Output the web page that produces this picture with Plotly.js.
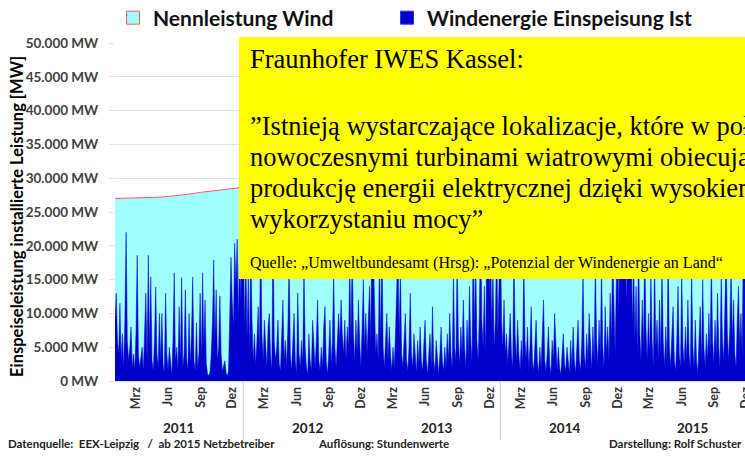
<!DOCTYPE html>
<html><head><meta charset="utf-8">
<script src="https://cdn.plot.ly/plotly-3.0.1.min.js"></script>
<style>html,body{margin:0;padding:0;overflow:hidden;background:#fff}#chart{width:762px;height:457px}</style>
</head><body><div id="chart"></div>
<script>
// ---- data (values above ~15.000 MW after 2011 are hidden by the yellow box and estimated) ----
const years = [2011, 2012, 2013, 2014, 2015];
const monthNames = ['Mrz', 'Jun', 'Sep', 'Dez'];
const monthNumbers = [3, 6, 9, 12];

// installed wind capacity, monthly from Jan 2011 to Jan 2016 (MW)
const capacity = [
  27000, 27020, 27060, 27110, 27170, 27300, 27450, 27650, 27900, 28100, 28300, 28500,
  28700, 28850, 29000, 29200, 29400, 29600, 29800, 30000, 30250, 30500, 30800, 31100,
  31300, 31500, 31700, 31950, 32200, 32450, 32700, 33000, 33300, 33600, 33950, 34300,
  34600, 34900, 35250, 35600, 36000, 36400, 36800, 37200, 37650, 38100, 38600, 39100,
  39500, 39900, 40400, 40900, 41400, 41900, 42400, 42900, 43400, 43900, 44400, 44900,
  45200
];

// wind feed-in, two samples per week (MW)
const wind2011 = [
  9000, 13000, 6000, 4000, 11500, 3000, 7000, 2000, 9000, 22000, 6000, 3000, 5000, 8000, 2000, 4000,
  1500, 7000, 18600, 4000, 2000, 3500, 5000, 1500, 6000, 13000, 3000, 18600, 5000, 15400, 3000, 1500,
  6000, 13900, 4000, 2000, 10000, 3000, 10000, 2500, 1200, 13000, 4000, 1500, 5000, 2000, 800, 6000,
  16000, 3000, 5000, 1500, 11000, 3000, 15300, 2000, 4000, 13500, 3500, 1500, 10000, 2500, 7000, 15400,
  3000, 1500, 8600, 2000, 4000, 13000, 3000, 16000, 5000, 12000, 2500, 1000, 800, 1300, 4000, 9000,
  17900, 6000, 13500, 3000, 5000, 12600, 4000, 1500, 2500, 3000, 1200, 700, 1500, 9000, 18300, 12000,
  8000, 20400, 14000, 21000, 9000, 20000, 12000, 24000
];
const wind2012 = [
  22000, 8000, 19000, 6000, 16000, 4000, 21000, 9000, 3000, 7000, 2500, 6000, 11000, 4000, 24000, 7000,
  3000, 9000, 5000, 2000, 8000, 10000, 4000, 1500, 23000, 6000, 3000, 5000, 9000, 2500, 1500, 7000,
  12000, 3000, 6000, 2000, 8000, 18000, 4000, 1500, 5000, 10000, 3000, 1200, 13000, 4000, 2000, 6000,
  2500, 17000, 5000, 2000, 1000, 7000, 3000, 1500, 9000, 4000, 2000, 6000, 12000, 3000, 1500, 5000,
  2000, 8000, 11000, 3000, 1000, 4000, 9000, 2500, 6000, 16000, 5000, 2000, 7000, 10000, 6000, 12000,
  7000, 4000, 9000, 3000, 8000, 5000, 18000, 6000, 20000, 7000, 3000, 9000, 4000, 12000, 6000, 2000,
  8000, 15000, 5000, 10000, 4000, 8000, 14000, 6000
];
const wind2013 = [
  26000, 20000, 9000, 4000, 7000, 3000, 18000, 6000, 22000, 5000, 2000, 6000, 10000, 3000, 8000, 4000,
  1500, 5000, 2000, 7000, 12000, 20000, 6000, 17000, 4000, 2000, 6000, 10000, 3000, 1500, 5000, 13000,
  4000, 2000, 7000, 3000, 1200, 6000, 2500, 8000, 3000, 1500, 5000, 9000, 3000, 1000, 4000, 7000,
  2000, 11000, 3000, 1500, 6000, 2500, 1000, 4000, 8000, 3000, 1500, 5000, 2000, 7000, 3000, 10000,
  4000, 2000, 16000, 5000, 3000, 19000, 6000, 2500, 8000, 4000, 12000, 5000, 2000, 9000, 4000, 14000,
  6000, 3000, 21000, 8000, 18000, 6000, 3000, 10000, 24000, 9000, 5000, 14000, 4000, 20000, 26000, 12000,
  22000, 8000, 17000, 5000, 9000, 21000, 7000, 15000
];
const wind2014 = [
  23000, 9000, 5000, 12000, 4000, 7000, 2500, 6000, 10000, 4000, 2000, 19000, 7000, 3000, 9000, 4000,
  1500, 6000, 2500, 18000, 6000, 3000, 8000, 2000, 5000, 11000, 3000, 1500, 6000, 9000, 3000, 1200,
  5000, 2000, 7000, 12000, 3000, 1500, 4000, 8000, 2500, 1000, 6000, 3000, 10000, 4000, 1500, 5000,
  2000, 900, 4000, 7000, 2500, 1500, 5000, 3000, 1000, 6000, 2000, 8000, 3000, 1200, 5000, 9000,
  3000, 1500, 6000, 16000, 4000, 2000, 7000, 3000, 10000, 4000, 1500, 8000, 3000, 18000, 6000, 2500,
  9000, 4000, 17000, 5000, 2000, 11000, 4000, 8000, 3000, 13000, 6000, 20000, 9000, 4000, 15000, 22000,
  10000, 25000, 14000, 27000, 18000, 24000, 12000, 21000
];
const wind2015 = [
  26000, 15000, 22000, 8000, 19000, 6000, 14000, 4000, 20000, 7000, 3000, 12000, 5000, 21000, 8000, 3000,
  10000, 4000, 16000, 6000, 2000, 18000, 5000, 9000, 3000, 12000, 4000, 17000, 6000, 2000, 8000, 3000,
  19000, 5000, 2000, 7000, 11000, 3000, 1500, 6000, 14000, 4000, 2000, 16000, 5000, 2500, 8000, 3000,
  12000, 4000, 1500, 17000, 5000, 2000, 9000, 3000, 1200, 6000, 11000, 3000, 15000, 5000, 2000, 7000,
  3000, 10000, 4000, 18000, 6000, 2500, 9000, 4000, 13000, 5000, 2000, 16000, 6000, 3000, 11000, 19000,
  7000, 3000, 8000, 17000, 6000, 12000, 4000, 2000, 9000, 14000, 5000, 10000, 4000, 22000, 28000, 18000,
  25000, 12000, 20000, 9000, 24000, 15000, 27000, 19000
];
const windByYear = [wind2011, wind2012, wind2013, wind2014, wind2015];

const legendCapacity = 'Nennleistung Wind';
const legendWind = 'Windenergie Einspeisung Ist';
const yTitle = 'Einspeiseleistung installierte Leistung [MW]';
const boxHeading = 'Fraunhofer IWES Kassel:';
const boxQuote = [
  '”Istnieją wystarczające lokalizacje, które w połączeniu z',
  'nowoczesnymi turbinami wiatrowymi obiecują wysoką',
  'produkcję energii elektrycznej dzięki wysokiemu',
  'wykorzystaniu mocy”'
];
const boxSource = 'Quelle: „Umweltbundesamt (Hrsg): „Potenzial der Windenergie an Land“';
const footerLeft = 'Datenquelle:  EEX-Leipzig   /  ab 2015 Netzbetreiber';
const footerMid = 'Auflösung: Stundenwerte';
const footerRight = 'Darstellung: Rolf Schuster';

// ---- build ----
function iso(ms) { return new Date(ms).toISOString().slice(0, 16).replace('T', ' '); }

const capX = capacity.map((v, k) => iso(Date.UTC(2011 + Math.floor(k / 12), k % 12, 1)));
const windX = [], windY = [];
years.forEach((yr, yi) => {
  const arr = windByYear[yi];
  const start = Date.UTC(yr, 0, 1), len = Date.UTC(yr + 1, 0, 1) - start;
  arr.forEach((v, i) => { windX.push(iso(start + i * len / arr.length)); windY.push(v); });
});

const tickvals = [], ticktext = [];
years.forEach(yr => monthNumbers.forEach((m, j) => {
  tickvals.push(yr + '-' + String(m).padStart(2, '0') + '-01');
  ticktext.push(monthNames[j]);
}));

const BLUE = '#0000CC', CYAN = '#A0FFFF', RED = '#FF5A5A';
const sans = 'Lato, "Open Sans", sans-serif';
const serif = '"Liberation Serif", "Times New Roman", serif';

// pixel -> paper helpers (plot area: x 115..757, y 43..381)
const px = x => (x - 115) / 642;
const py = y => 1 - (y - 43) / 338;

const traces = [
  { x: capX, y: capacity, type: 'scatter', mode: 'lines', fill: 'tozeroy',
    fillcolor: CYAN, line: { color: RED, width: 1 }, showlegend: false, hoverinfo: 'skip' },
  { x: windX, y: windY, type: 'scatter', mode: 'lines', fill: 'tozeroy',
    fillcolor: BLUE, line: { color: BLUE, width: 0.5 }, showlegend: false, hoverinfo: 'skip' },
  { x: [null], y: [null], type: 'scatter', mode: 'markers', name: legendCapacity, legend: 'legend',
    marker: { symbol: 'square', size: 13, color: CYAN, line: { color: RED, width: 1 } } },
  { x: [null], y: [null], type: 'scatter', mode: 'markers', name: legendWind, legend: 'legend2',
    marker: { symbol: 'square', size: 13, color: BLUE, line: { color: '#3333DD', width: 1 } } }
];

const annotations = [];
years.forEach(yr => annotations.push({
  x: yr + '-07-02', xref: 'x', y: py(428), yref: 'paper', text: String(yr), showarrow: false,
  font: { family: sans, size: 13.5, weight: 700, color: '#222' }, xanchor: 'center', yanchor: 'middle', borderpad: 0
}));
const footFont = { family: sans, size: 11.5, weight: 700, color: '#222' };
annotations.push(
  { x: px(7), y: py(451), xref: 'paper', yref: 'paper', text: footerLeft, showarrow: false, xanchor: 'left', font: footFont, borderpad: 0 },
  { x: px(317), y: py(451), xref: 'paper', yref: 'paper', text: footerMid, showarrow: false, xanchor: 'left', font: footFont, borderpad: 0 },
  { x: px(743), y: py(451), xref: 'paper', yref: 'paper', text: footerRight, showarrow: false, xanchor: 'right', font: footFont, borderpad: 0 },
  { x: px(17), y: py(217), xref: 'paper', yref: 'paper', text: yTitle, showarrow: false, textangle: -90,
    xanchor: 'center', yanchor: 'middle', font: { family: sans, size: 16.5, weight: 700, color: '#000' } },
  { x: px(248), y: py(59), xref: 'paper', yref: 'paper', text: boxHeading, showarrow: false, xanchor: 'left',
    yanchor: 'middle', font: { family: serif, size: 26.5, color: '#000' } }
);
const quoteYpx = [126, 157, 188, 219];
boxQuote.forEach((t, k) => annotations.push({
  x: px(248), y: py(quoteYpx[k]), xref: 'paper', yref: 'paper', text: t, showarrow: false, xanchor: 'left',
  yanchor: 'middle', font: { family: serif, size: 26.5, color: '#000' }
}));
annotations.push({ x: px(248), y: py(263), xref: 'paper', yref: 'paper', text: boxSource, showarrow: false,
  xanchor: 'left', yanchor: 'middle', font: { family: serif, size: 16, color: '#000' } });

const shapes = [
  { type: 'rect', xref: 'paper', yref: 'paper', x0: px(239), x1: px(800), y0: py(279), y1: py(37),
    fillcolor: '#FFFF00', line: { width: 0 }, layer: 'above' }
];
['2012-01-01', '2014-01-01'].forEach(d => shapes.push({
  type: 'line', xref: 'x', yref: 'paper', x0: d, x1: d, y0: 0, y1: py(440),
  line: { color: '#D0D0D0', width: 1 }
}));

const legendFont = { family: sans, size: 21, weight: 700, color: '#111' };
const layout = {
  width: 762, height: 457,
  margin: { l: 115, r: 5, t: 43, b: 76 },
  paper_bgcolor: '#fff', plot_bgcolor: '#fff',
  separators: ',.',
  showlegend: true,
  legend: { x: 113 / 762, xref: 'container', y: 1 - 18 / 457, yref: 'container', xanchor: 'left', yanchor: 'middle',
    orientation: 'h', bgcolor: 'rgba(0,0,0,0)', font: legendFont },
  legend2: { x: 387 / 762, xref: 'container', y: 1 - 18 / 457, yref: 'container', xanchor: 'left', yanchor: 'middle',
    orientation: 'h', bgcolor: 'rgba(0,0,0,0)', font: legendFont },
  xaxis: {
    type: 'date', range: ['2011-01-01', '2016-01-01'], tickvals: tickvals, ticktext: ticktext,
    tickangle: -90, showgrid: false, zeroline: false, showline: true, linecolor: '#D9D9D9', ticks: '',
    tickfont: { family: sans, size: 12.5, weight: 700, color: '#333' }, fixedrange: true
  },
  yaxis: {
    range: [0, 50000], dtick: 5000, tick0: 0, tickformat: ',d', ticksuffix: ' MW',
    showgrid: true, gridcolor: '#E0E0E0', zeroline: false, ticks: 'outside', ticklen: 5, tickcolor: '#E0E0E0',
    ticklabelstandoff: 8,
    tickfont: { family: sans, size: 13.5, weight: 700, color: '#404040' },
    automargin: false, fixedrange: true
  },
  annotations: annotations,
  shapes: shapes
};

Plotly.newPlot('chart', traces, layout, { displayModeBar: false, staticPlot: true });
</script></body></html>
